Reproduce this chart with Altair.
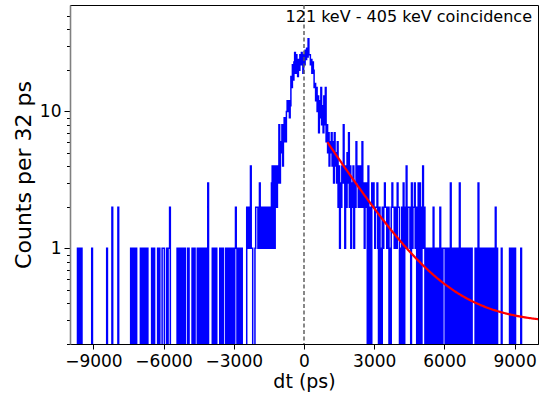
import altair as alt
import numpy as np
import pandas as pd

# Histogram of coincidence time differences, 32 ps bins from -10000 to 10000 ps
BIN_WIDTH = 32
T_MIN, T_MAX = -10000, 10000
TITLE = "121 keV - 405 keV coincidence"

# Counts per bin, 25 bins (800 ps) per row, read left to right
left_tail_rows = [
    "0000000000101101000000000",
    "0000100000000000000000001",
    "0000002000000020000000000",
    "0000001011010100000101101",
    "1011000001011000010100011",
    "1000101120000000001011010",
    "0101000110000101100010110",
    "1011011013000001011010000",
    "1010100010110101101012101",
    "0110100000021212411000122",
    "2123121211212122121341413",
]
peak_rows = [
    [4, 2, 4, 3, 8, 3, 6, 5, 8, 4, 7, 9, 6, 6, 10, 12, 10, 12, 9, 11, 18, 15, 22, 17, 23],
    [27, 19, 26, 22, 18, 24, 20, 26, 22, 27, 24, 19, 26, 22, 28, 24, 29, 25, 34, 26, 26, 22, 24, 19, 23],
    [20, 15, 16, 12, 15, 10, 13, 7, 12, 9, 15, 8, 11, 7, 13, 8, 15, 6, 8, 5, 7, 4, 6, 5, 7],
]
right_tail_rows = [
    "4637453624132438314253724",
    "1324132634234236231232040",
    "0203232122310201021232212",
    "2010232212213220102030124",
    "1222103122312023032024120",
    "1010010110201011010201011",
    "1011010130101101011030101",
    "1010110101010000101030110",
    "0101001010100101002010000",
    "0100000000001010100100000",
    "0010000000000000000000000",
]

# Exponential fit with flat background: A * exp(-t / tau) + B
fit_amplitude = 10.47
fit_tau = 1640.0
fit_background = 0.28
fit_start, fit_stop = 1000, 10000

counts = [int(c) for row in left_tail_rows for c in row]
counts += [c for row in peak_rows for c in row]
counts += [int(c) for row in right_tail_rows for c in row]

edges = T_MIN + BIN_WIDTH * np.arange(len(counts) + 1)
hist = pd.DataFrame({"dt": edges, "counts": counts + [counts[-1]]})

t_fit = np.linspace(fit_start, fit_stop, 300)
fit = pd.DataFrame({
    "dt": t_fit,
    "model": fit_amplitude * np.exp(-t_fit / fit_tau) + fit_background,
})

FONT = "DejaVu Sans"
x_scale = alt.Scale(domain=[T_MIN, T_MAX], nice=False, zero=False)
y_scale = alt.Scale(type="log", domain=[0.2, 60], nice=False)

y_ticks = [0.2, 0.3, 0.4, 0.5, 0.6, 0.7, 0.8, 0.9, 1, 2, 3, 4, 5, 6, 7, 8, 9, 10, 20, 30, 40, 50]
major = "datum.value == 1 || datum.value == 10"

x_axis = alt.Axis(
    values=[-9000, -6000, -3000, 0, 3000, 6000, 9000],
    format="d",
    title="dt (ps)",
    grid=False,
    labelFont=FONT, labelFontSize=17, labelColor="black", labelPadding=4,
    titleFont=FONT, titleFontSize=19, titleFontWeight="normal", titleColor="black", titlePadding=3,
    tickSize=5, tickColor="black", domainColor="black",
)
y_axis = alt.Axis(
    values=y_ticks,
    format="~g",
    labelExpr=f"{major} ? datum.label : ''",
    labelOverlap=False,
    title="Counts per 32 ps",
    grid=False,
    labelFont=FONT, labelFontSize=17, labelColor="black", labelPadding=3,
    titleFont=FONT, titleFontSize=22, titleFontWeight="normal", titleColor="black", titlePadding=4,
    tickSize={"condition": {"test": major, "value": 6}, "value": 3.5},
    tickColor="black", domainColor="#808080", domainWidth=1.6,
)

hist_line = alt.Chart(hist).transform_calculate(
    plotted="datum.counts > 0 ? datum.counts : 0.05"
).mark_line(interpolate="step-after", color="#0000ff", strokeWidth=1.5, clip=True).encode(
    x=alt.X("dt:Q", scale=x_scale, axis=x_axis),
    y=alt.Y("plotted:Q", scale=y_scale, axis=y_axis),
)

zero_line = alt.Chart(pd.DataFrame({"dt": [0]})).mark_rule(
    color="#555555", strokeDash=[4, 2.5], strokeWidth=1.4
).encode(x=alt.X("dt:Q", scale=x_scale))

fit_line = alt.Chart(fit).mark_line(color="#ff0000", strokeWidth=2.2, clip=True).encode(
    x=alt.X("dt:Q", scale=x_scale),
    y=alt.Y("model:Q", scale=y_scale),
)

# Annotation in the upper right corner of the axes
label = alt.Chart(pd.DataFrame({"text": [TITLE]})).mark_text(
    align="right", baseline="alphabetic", dx=-6,
    font=FONT, fontSize=16, color="black",
).encode(
    x=alt.datum(T_MAX, scale=x_scale),
    y=alt.value(17),
    text="text:N",
)

chart = alt.layer(hist_line, zero_line, fit_line, label).properties(
    width=468,
    height=339,
    autosize=alt.AutoSizeParams(type="none"),
    padding={"left": 70, "top": 5, "right": 10, "bottom": 57},
).configure_view(stroke="black", strokeWidth=1)

chart.save("out.html", embed_options={"renderer": "svg", "actions": False})
